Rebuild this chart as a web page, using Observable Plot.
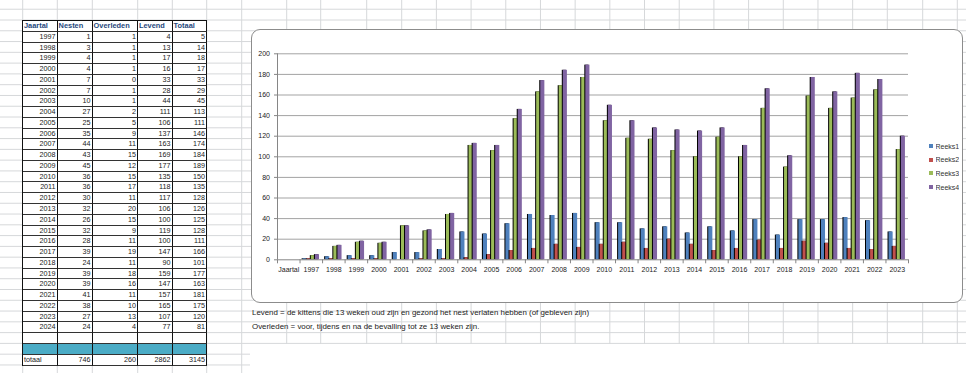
<!DOCTYPE html>
<html><head><meta charset="utf-8">
<script src="https://cdn.jsdelivr.net/npm/d3@7"></script>
<script src="https://cdn.jsdelivr.net/npm/@observablehq/plot@0.6"></script>
<style>
html,body{margin:0;padding:0;background:#fff}
#page{position:relative;width:966px;height:373px;overflow:hidden;font-family:"Liberation Sans",Arial,sans-serif}
#grid{position:absolute;left:0;top:0}
#tbl{position:absolute;left:22px;top:20px;display:grid;grid-template-columns:34.6px 35px 45.4px 34.6px 34.4px;grid-auto-rows:10.78px;border-top:1px solid #111;border-left:1px solid #111;background:#fff}
#tbl div{box-sizing:border-box;border-right:1px solid #111;border-bottom:1px solid #333;font-size:7.2px;line-height:10px;text-align:right;padding:0 1px;color:#1a1a1a;white-space:nowrap;overflow:hidden}
#tbl div.h{font-weight:bold;color:#1F497D;text-align:left;font-size:7.4px}
#tbl div.blue{background:#4BACC6}
#tbl div.l{text-align:left}
#box{position:absolute;left:251px;top:29px;width:712px;height:274px;box-sizing:border-box;border:1px solid #8c8c8c;border-radius:9px;background:#fff}
#chart{position:absolute;left:251px;top:29px}
#legend{position:absolute;left:929px;top:139.2px}
#legend .lg-swatches{font-family:"Liberation Sans",Arial,sans-serif;font-size:7px;color:#333;margin:0}
#legend .lg-swatch{height:13.7px;padding-bottom:0;display:flex;align-items:center}
#legend .lg-swatch svg{margin-right:2.5px}
#notes{position:absolute;left:252px;top:306px;font-size:7.9px;line-height:14px;color:#222;white-space:nowrap}
</style>
</head><body>
<div id="page">
  <div id="grid"></div>
  <div id="tbl"></div>
  <div id="box"></div>
  <div id="chart"></div>
  <div id="legend"></div>
  <div id="notes">
    <div>Levend = de kittens die 13 weken oud zijn en gezond het nest verlaten hebben (of gebleven zijn)</div>
    <div>Overleden = voor, tijdens en na de bevalling tot ze 13 weken zijn.</div>
  </div>
</div>
<script>
// ---- data ----
const headers = ["Jaartal", "Nesten", "Overleden", "Levend", "Totaal"];
const years = ["1997","1998","1999","2000","2001","2002","2003","2004","2005","2006","2007","2008","2009","2010","2011","2012","2013","2014","2015","2016","2017","2018","2019","2020","2021","2022","2023","2024"];
const nesten    = [1,3,4,4,7,7,10,27,25,35,44,43,45,36,36,30,32,26,32,28,39,24,39,39,41,38,27,24];
const overleden = [1,1,1,1,0,1,1,2,5,9,11,15,12,15,17,11,20,15,9,11,19,11,18,16,11,10,13,4];
const levend    = [4,13,17,16,33,28,44,111,106,137,163,169,177,135,118,117,106,100,119,100,147,90,159,147,157,165,107,77];
const totaal    = [5,14,18,17,33,29,45,113,111,146,174,184,189,150,135,128,126,125,128,111,166,101,177,163,181,175,120,81];
const totaalLabel = "totaal";
const totaalRow = [746, 260, 2862, 3145];

const chartCategories = ["Jaartal"].concat(years.slice(0, 27));
const seriesNames = ["Reeks1", "Reeks2", "Reeks3", "Reeks4"];
const seriesValues = [nesten, overleden, levend, totaal];
const colors = ["#4F81BD", "#C0504D", "#9BBB59", "#8064A2"];
const yTicks = [0,20,40,60,80,100,120,140,160,180,200];

// ---- spreadsheet background grid ----
(function(){
  const svg = d3.select("#grid").append("svg").attr("width", 966).attr("height", 373);
  const colX = [22.7, 57.3, 92.3, 137.7, 172.3, 206.7, 241.7, 286.7, 320.7, 366.7, 401.7];
  let x = 401.7; while (x + 34.69 < 887) { x += 34.69; colX.push(x); }
  colX.push(887.3, 922.7, 957.3);
  const rowH = 10.78;
  const rowY = []; for (let y = 20 - rowH; y < 373; y += rowH) rowY.push(y);
  svg.selectAll("line.v").data(colX).join("line")
    .attr("x1", d => d).attr("x2", d => d).attr("y1", 0).attr("y2", d => d < 250 ? 373 : 344)
    .attr("stroke", "#d6d8da").attr("stroke-width", 1);
  svg.selectAll("line.h").data(rowY).join("line")
    .attr("x1", 0).attr("x2", d => d > 344 ? 250 : 966).attr("y1", d => d).attr("y2", d => d)
    .attr("stroke", "#d6d8da").attr("stroke-width", 1);
})();

// ---- table ----
(function(){
  const t = document.getElementById("tbl");
  const cell = (txt, cls) => { const d = document.createElement("div"); if (cls) d.className = cls; d.textContent = txt; t.appendChild(d); };
  headers.forEach(h => cell(h, "h"));
  years.forEach((y, i) => {
    cell(y); cell(nesten[i]); cell(overleden[i]); cell(levend[i]); cell(totaal[i]);
  });
  for (let k = 0; k < 5; k++) cell("");
  for (let k = 0; k < 5; k++) cell("", "blue");
  cell(totaalLabel, "l"); totaalRow.forEach(v => cell(v));
})();

// ---- chart ----
const rows = [];
seriesValues.forEach((vals, s) => {
  years.slice(0, 27).forEach((y, j) => rows.push({cat: j + 1, s, value: vals[j]}));
});
const gapWidth = 1.5; // Excel default 150%
const unit = 1 / (seriesNames.length + gapWidth);
const bars = [];
seriesNames.forEach((name, s) => {
  const data = rows.filter(d => d.s === s);
  const x1 = d => d.cat + (gapWidth / 2 + s) * unit;
  const x2 = d => d.cat + (gapWidth / 2 + s + 1) * unit;
  bars.push(Plot.rectY(data, {x1, x2, y: "value", fill: "#000", dx: -1}));
  bars.push(Plot.rectY(data, {x1, x2, y: "value", fill: colors[s]}));
});

const chart = Plot.plot({
  width: 712, height: 274,
  marginLeft: 26, marginRight: 55, marginTop: 24.3, marginBottom: 43.7,
  x: {domain: [0, chartCategories.length]},
  y: {domain: [0, 200]},
  style: {background: "transparent", fontFamily: "Liberation Sans, Arial, sans-serif", fontSize: "7px", color: "#222", overflow: "visible"},
  marks: [
    Plot.ruleY(yTicks.filter(d => d > 0), {stroke: "#a3a3a3"}),
    ...bars,
    Plot.ruleY([0], {stroke: "#868686"}),
    Plot.ruleX([0], {stroke: "#868686"}),
    Plot.axisY({ticks: yTicks, tickSize: 3, tickPadding: 4.5, stroke: "#868686", label: null, tickFormat: d => String(d)}),
    Plot.axisX({ticks: d3.range(chartCategories.length + 1), tickSize: 4, tickFormat: () => "", stroke: "#868686", label: null}),
    Plot.axisX({ticks: chartCategories.map((c, i) => i + 0.5), tickSize: 0, tickPadding: 7, tickFormat: d => chartCategories[Math.floor(d)], label: null})
  ]
});
document.getElementById("chart").appendChild(chart);

const legend = Plot.legend({color: {type: "ordinal", domain: seriesNames, range: colors}, legend: "swatches", columns: 1, swatchSize: 4, className: "lg"});
document.getElementById("legend").appendChild(legend);
</script>
</body></html>
